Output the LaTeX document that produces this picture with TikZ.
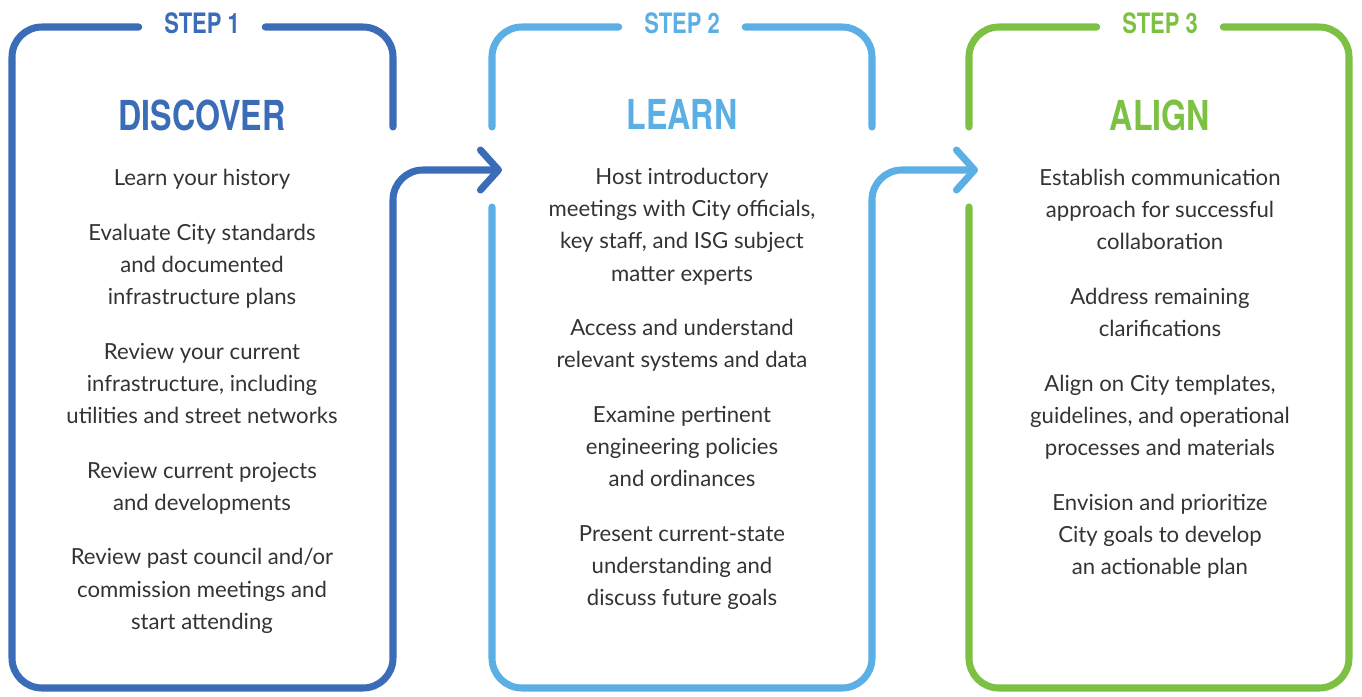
\documentclass[tikz,border=0pt]{standalone}
\usepackage{fontspec}
\setmainfont{Lato}
\newfontfamily\headfont[FakeStretch=0.78]{TeX Gyre Heros}
\usetikzlibrary{arrows.meta, positioning}
\definecolor{stepOne}{HTML}{3B6CB7}
\definecolor{stepTwo}{HTML}{5CAFE4}
\definecolor{stepThree}{HTML}{7CC143}
\definecolor{bodyGray}{gray}{0.2}

\begin{document}
\begin{tikzpicture}[x=0.2mm, y=-0.2mm, line width=4pt, line cap=round,
    frame/.style={rounded corners=6mm},
    flow/.style={-{Straight Barb[length=3.6mm, width=8mm, round]}},
    steplabel/.style={font=\headfont\bfseries\fontsize{16}{16}\selectfont, inner sep=0pt, inner xsep=4.4mm},
    title/.style={font=\headfont\bfseries\fontsize{23.5}{24}\selectfont, inner sep=0pt},
    body/.style={font=\fontsize{12.6}{18.3}\selectfont, text=bodyGray, align=center, inner sep=0pt}]
    \useasboundingbox (0,0) rectangle (1362,696);

    % Panel corners
    \coordinate (p1nw) at (12,27);   \coordinate (p1ne) at (393,27);
    \coordinate (p1sw) at (12,688);  \coordinate (p1se) at (393,688);
    \coordinate (p2nw) at (492,27);  \coordinate (p2ne) at (872,27);
    \coordinate (p2sw) at (492,688); \coordinate (p2se) at (872,688);
    \coordinate (p3nw) at (969,27);  \coordinate (p3ne) at (1349,27);
    \coordinate (p3sw) at (969,688); \coordinate (p3se) at (1349,688);
    \coordinate (cutTop) at (0,127); % side gap for the arrows
    \coordinate (cutBot) at (0,207);
    \coordinate (arrowY) at (0,170);
    \coordinate (tip1) at (502,170);
    \coordinate (tip2) at (978,170);

    % Step labels and titles
    \node[steplabel, text=stepOne] (s1) at (202,23) {STEP 1};
    \node[steplabel, text=stepTwo] (s2) at (682,23) {STEP 2};
    \node[steplabel, text=stepThree] (s3) at (1160,23) {STEP 3};
    \node[title, text=stepOne, below=11.8mm of s1] (t1) {DISCOVER};
    \node[title, text=stepTwo, below=11.8mm of s2] (t2) {LEARN};
    \node[title, text=stepThree, below=11.8mm of s3] (t3) {ALIGN};

    % Step 1
    \draw[stepOne, frame] (s1.east |- p1nw) -- (p1ne) -- (p1ne |- cutTop);
    \draw[stepOne, frame, flow] (s1.west |- p1nw) -- (p1nw) -- (p1sw) -- (p1se) -- (p1se |- arrowY) -- (tip1);

    % Step 2
    \draw[stepTwo, frame] (p2nw |- cutTop) -- (p2nw) -- (s2.west |- p2nw);
    \draw[stepTwo, frame] (s2.east |- p2nw) -- (p2ne) -- (p2ne |- cutTop);
    \draw[stepTwo, frame, flow] (p2nw |- cutBot) -- (p2sw) -- (p2se) -- (p2se |- arrowY) -- (tip2);

    % Step 3
    \draw[stepThree, frame] (p3nw |- cutTop) -- (p3nw) -- (s3.west |- p3nw);
    \draw[stepThree, frame] (s3.east |- p3nw) -- (p3ne) -- (p3se) -- (p3sw) -- (p3sw |- cutBot);

    % Task lists
    \node[body, below=6.3mm of t1] (b1) {Learn your history\\[4.5mm]
        Evaluate City standards\\ and documented\\ infrastructure plans\\[4.5mm]
        Review your current\\ infrastructure, including\\ utilities and street networks\\[4.5mm]
        Review current projects\\ and developments\\[4.5mm]
        Review past council and/or\\ commission meetings and\\ start attending};
    \node[body, below=6.3mm of t2] (b2) {Host introductory\\ meetings with City officials,\\ key staff, and ISG subject\\ matter experts\\[4.5mm]
        Access and understand\\ relevant systems and data\\[4.5mm]
        Examine pertinent\\ engineering policies\\ and ordinances\\[4.5mm]
        Present current-state\\ understanding and\\ discuss future goals};
    \node[body, below=6.3mm of t3] (b3) {Establish communication\\ approach for successful\\ collaboration\\[4.5mm]
        Address remaining\\ clarifications\\[4.5mm]
        Align on City templates,\\ guidelines, and operational\\ processes and materials\\[4.5mm]
        Envision and prioritize\\ City goals to develop\\ an actionable plan};
\end{tikzpicture}
\end{document}
